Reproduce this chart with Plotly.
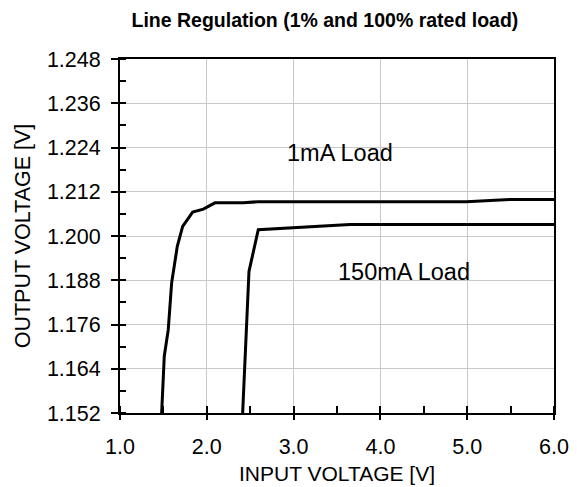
import plotly.graph_objects as go

# 1mA load curve
vin_1ma = [1.48, 1.51, 1.556, 1.595, 1.66, 1.722, 1.837, 1.96, 2.094, 2.42, 2.593, 4.99, 5.49, 6.0]
vout_1ma = [1.152, 1.1674, 1.1746, 1.1873, 1.1972, 1.2026, 1.2065, 1.2073, 1.2090, 1.2090, 1.2093, 1.2093, 1.2099, 1.2099]

# 150mA load curve
vin_150ma = [2.413, 2.486, 2.593, 3.65, 6.0]
vout_150ma = [1.152, 1.1904, 1.2017, 1.2031, 1.2031]

x_ticks = [1.0, 2.0, 3.0, 4.0, 5.0, 6.0]
y_ticks = [1.152, 1.164, 1.176, 1.188, 1.200, 1.212, 1.224, 1.236, 1.248]

FONT = "Liberation Sans, Arial, sans-serif"

fig = go.Figure()
fig.add_trace(go.Scatter(x=vin_1ma, y=vout_1ma, mode="lines",
                         line=dict(color="black", width=3), name="1mA Load"))
fig.add_trace(go.Scatter(x=vin_150ma, y=vout_150ma, mode="lines",
                         line=dict(color="black", width=3), name="150mA Load"))

fig.add_annotation(x=3.535, y=1.2225, text="1mA Load", showarrow=False,
                   font=dict(family=FONT, size=23.5, color="black"))
fig.add_annotation(x=4.27, y=1.1903, text="150mA Load", showarrow=False,
                   font=dict(family=FONT, size=23.5, color="black"))

# x axis title as an annotation so it sits just under the tick labels
fig.add_annotation(x=0.5, y=-0.17, xref="paper", yref="paper", yanchor="middle",
                   text="INPUT VOLTAGE [V]", showarrow=False,
                   font=dict(family=FONT, size=21, color="black"))

# page body adds an 8px margin, so the figure is a bit smaller than the window
fig.update_layout(
    width=569, height=479,
    margin=dict(l=112, r=23, t=51, b=74),
    paper_bgcolor="white", plot_bgcolor="white",
    showlegend=False,
    font=dict(family=FONT, color="black"),
    title=dict(text="<b>Line Regulation (1% and 100% rated load)</b>",
               x=0.557, xanchor="center", y=0.975, yanchor="middle",
               font=dict(family=FONT, size=19.5, color="black")),
    xaxis=dict(range=[1.0, 6.0], tickvals=x_ticks, ticktext=[f"{v:.1f}" for v in x_ticks],
               showgrid=True, gridcolor="#c8c8c8", gridwidth=1,
               showline=True, linecolor="black", linewidth=2, mirror=True,
               ticks="outside", ticklen=5, tickwidth=2, tickcolor="black",
               minor=dict(ticks="inside", dtick=0.5, ticklen=7, tickwidth=1.5,
                          tickcolor="black", showgrid=False),
               tickfont=dict(size=21.5), ticklabelstandoff=8, zeroline=False,
               automargin=False),
    yaxis=dict(range=[1.152, 1.248], tickvals=y_ticks, ticktext=[f"{v:.3f}" for v in y_ticks],
               showgrid=True, gridcolor="#c8c8c8", gridwidth=1,
               showline=True, linecolor="black", linewidth=2, mirror=True,
               ticks="outside", ticklen=7, tickwidth=2, tickcolor="black",
               minor=dict(ticks="inside", dtick=0.006, ticklen=6, tickwidth=1.5,
                          tickcolor="black", showgrid=False),
               tickfont=dict(size=21.5), ticklabelstandoff=6, zeroline=False,
               title=dict(text="OUTPUT VOLTAGE [V]", font=dict(size=21.5), standoff=10)),
)

fig.write_html("out.html")
